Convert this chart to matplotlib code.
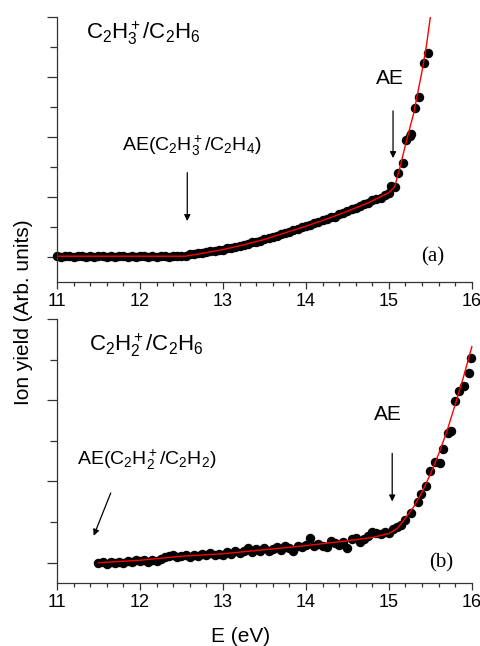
import matplotlib
matplotlib.use("Agg")
import matplotlib.pyplot as plt
from matplotlib.ticker import MultipleLocator, NullFormatter

plt.rcParams['font.family'] = ['Liberation Sans', 'DejaVu Sans']
plt.rcParams['mathtext.fontset'] = 'custom'
plt.rcParams['mathtext.rm'] = 'Liberation Sans'
plt.rcParams['mathtext.it'] = 'Liberation Sans'

# (a) C2H3+ / C2H6 measured points
e_a = [11.00, 11.05, 11.10, 11.15, 11.20, 11.25, 11.30, 11.35, 11.40, 11.45,
       11.50, 11.55, 11.60, 11.65, 11.70, 11.75, 11.80, 11.85, 11.90, 11.95,
       12.00, 12.05, 12.10, 12.15, 12.20, 12.25, 12.30, 12.35, 12.40, 12.45,
       12.50, 12.55, 12.60, 12.65, 12.70, 12.75, 12.80, 12.85, 12.90, 12.95,
       13.00, 13.05, 13.10, 13.15, 13.20, 13.25, 13.30, 13.35, 13.40, 13.45,
       13.50, 13.55, 13.60, 13.65, 13.70, 13.75, 13.80, 13.85, 13.90, 13.95,
       14.00, 14.05, 14.10, 14.15, 14.20, 14.25, 14.30, 14.35, 14.40, 14.45,
       14.50, 14.55, 14.60, 14.65, 14.70, 14.75, 14.80, 14.85, 14.90, 14.95,
       15.00, 15.03, 15.07, 15.11, 15.17, 15.21, 15.25, 15.27, 15.31, 15.36,
       15.42, 15.47]
y_a = [0.01, 0.00, 0.02, 0.01, 0.00, 0.01, 0.02, 0.00, 0.01, 0.00,
       0.01, 0.02, 0.00, 0.01, 0.00, 0.01, 0.02, 0.00, 0.01, 0.00,
       0.01, 0.02, 0.00, 0.01, 0.00, 0.02, 0.01, 0.00, 0.01, 0.02,
       0.01, 0.02, 0.04, 0.05, 0.06, 0.06, 0.08, 0.09, 0.10, 0.11,
       0.12, 0.14, 0.15, 0.17, 0.18, 0.20, 0.21, 0.24, 0.25, 0.27,
       0.29, 0.31, 0.33, 0.35, 0.38, 0.39, 0.42, 0.44, 0.46, 0.49,
       0.51, 0.53, 0.56, 0.58, 0.61, 0.63, 0.66, 0.67, 0.71, 0.73,
       0.76, 0.79, 0.81, 0.84, 0.88, 0.90, 0.94, 0.96, 0.98, 1.03,
       1.07, 1.18, 1.16, 1.40, 1.57, 1.95, 2.01, 2.04, 2.48, 2.66,
       3.23, 3.40]
fit_e_a = [11.0, 12.55, 12.8, 13.0, 13.25, 13.5, 13.75, 14.0, 14.25, 14.5,
           14.75, 15.0, 15.07, 15.13, 15.2, 15.3, 15.4, 15.45, 15.5]
fit_y_a = [0.01, 0.01, 0.07, 0.12, 0.20, 0.29, 0.40, 0.51, 0.63, 0.76,
           0.90, 1.07, 1.17, 1.47, 1.87, 2.40, 3.10, 3.50, 4.00]

# (b) C2H2+ / C2H6 measured points
e_b = [11.50, 11.55, 11.60, 11.65, 11.70, 11.75, 11.80, 11.85, 11.90, 11.95,
       12.00, 12.05, 12.10, 12.15, 12.20, 12.25, 12.30, 12.35, 12.40, 12.45,
       12.50, 12.55, 12.60, 12.65, 12.70, 12.75, 12.80, 12.85, 12.90, 12.95,
       13.00, 13.05, 13.10, 13.15, 13.20, 13.25, 13.30, 13.35, 13.40, 13.45,
       13.50, 13.55, 13.60, 13.65, 13.70, 13.75, 13.80, 13.85, 13.90, 13.95,
       14.00, 14.05, 14.10, 14.15, 14.20, 14.25, 14.30, 14.35, 14.40, 14.45,
       14.50, 14.55, 14.60, 14.65, 14.70, 14.75, 14.80, 14.85, 14.90, 14.95,
       15.00, 15.05, 15.10, 15.15, 15.20, 15.27, 15.35, 15.39, 15.45, 15.49,
       15.55, 15.61, 15.65, 15.71, 15.75, 15.80, 15.84, 15.90, 15.96, 15.99]
y_b = [0.00, 0.01, -0.01, 0.01, 0.00, 0.01, 0.00, 0.02, 0.01, 0.03,
       0.02, 0.03, 0.01, 0.03, 0.02, 0.05, 0.07, 0.08, 0.09, 0.07,
       0.08, 0.10, 0.07, 0.09, 0.08, 0.11, 0.09, 0.12, 0.10, 0.11,
       0.09, 0.13, 0.11, 0.15, 0.12, 0.14, 0.18, 0.13, 0.17, 0.15,
       0.18, 0.14, 0.17, 0.19, 0.16, 0.21, 0.18, 0.15, 0.20, 0.19,
       0.22, 0.31, 0.20, 0.23, 0.21, 0.19, 0.27, 0.24, 0.22, 0.25,
       0.18, 0.29, 0.30, 0.26, 0.29, 0.33, 0.38, 0.36, 0.35, 0.38,
       0.37, 0.41, 0.44, 0.47, 0.52, 0.61, 0.75, 0.85, 0.95, 1.13,
       1.24, 1.23, 1.40, 1.60, 1.62, 1.99, 2.11, 2.17, 2.33, 2.52]
fit_e_b = [11.5, 12.0, 12.5, 13.0, 13.5, 14.0, 14.5, 14.8, 15.0, 15.1,
           15.2, 15.3, 15.4, 15.5, 15.6, 15.7, 15.8, 15.9, 16.0]
fit_y_b = [0.00, 0.03, 0.08, 0.11, 0.16, 0.21, 0.27, 0.31, 0.36, 0.42,
           0.55, 0.69, 0.87, 1.09, 1.34, 1.62, 1.95, 2.29, 2.66]

fig = plt.figure(figsize=(4.81, 6.46), dpi=100)
ax1 = fig.add_axes([0.1185, 0.5635, 0.8625, 0.4102])
ax2 = fig.add_axes([0.1185, 0.0975, 0.8625, 0.4087])


def style(ax, ylo, yhi):
    ax.set_xlim(11, 16)
    ax.set_ylim(ylo, yhi)
    for s in ['top', 'right']:
        ax.spines[s].set_visible(False)
    for s in ['left', 'bottom']:
        ax.spines[s].set_linewidth(0.9)
        ax.spines[s].set_color('#333333')
    ax.xaxis.set_major_locator(MultipleLocator(1))
    ax.xaxis.set_minor_locator(MultipleLocator(0.2))
    ax.yaxis.set_major_locator(MultipleLocator(1))
    ax.yaxis.set_minor_locator(MultipleLocator(0.5))
    ax.yaxis.set_major_formatter(NullFormatter())
    ax.tick_params(axis='both', which='major', direction='out', length=5,
                   width=0.9, color='#333333')
    ax.tick_params(axis='both', which='minor', direction='out', length=3,
                   width=0.9, color='#333333')
    ax.tick_params(axis='y', which='major', length=7)
    ax.tick_params(axis='y', which='minor', length=5)
    ax.tick_params(axis='x', labelsize=13, pad=3)


style(ax1, -0.42, 4.0)
style(ax2, -0.25, 3.0)

ax1.plot(e_a, y_a, 'o', color='black', markersize=5.8, clip_on=False)
ax1.plot(fit_e_a, fit_y_a, '-', color='red', lw=1.0)
ax2.plot(e_b, y_b, 'o', color='black', markersize=5.8, clip_on=False)
ax2.plot(fit_e_b, fit_y_b, '-', color='red', lw=1.0, clip_on=False)

arw = dict(arrowstyle='-|>', color='black', lw=0.9, mutation_scale=9)

ax1.text(11.35, 3.73, r'$\mathregular{C_2H_3^+/C_2H_6}$', fontsize=16,
         va='center', ha='left')
ax1.text(12.62, 1.85, r'$\mathregular{AE(C_2H_3^+/C_2H_4)}$', fontsize=14,
         va='center', ha='center')
ax1.annotate('', xy=(12.57, 0.55), xytext=(12.57, 1.45), arrowprops=arw)
ax1.text(15.01, 2.98, 'AE', fontsize=15, va='center', ha='center')
ax1.annotate('', xy=(15.05, 1.6), xytext=(15.05, 2.48), arrowprops=arw)
ax1.text(15.53, 0.0, '(a)', fontsize=15, va='center', ha='center',
         family='Liberation Serif')

ax2.text(11.38, 2.68, r'$\mathregular{C_2H_2^+/C_2H_6}$', fontsize=16,
         va='center', ha='left')
ax2.text(11.24, 1.26, r'$\mathregular{AE(C_2H_2^+/C_2H_2)}$', fontsize=14,
         va='center', ha='left')
ax2.annotate('', xy=(11.43, 0.30), xytext=(11.66, 0.89), arrowprops=arw)
ax2.text(14.99, 1.83, 'AE', fontsize=15, va='center', ha='center')
ax2.annotate('', xy=(15.04, 0.72), xytext=(15.04, 1.38), arrowprops=arw)
ax2.text(15.63, 0.0, '(b)', fontsize=15, va='center', ha='center',
         family='Liberation Serif')

fig.text(0.5, 0.015, 'E (eV)', fontsize=15, ha='center', va='center')
fig.text(0.048, 0.517, 'Ion yield (Arb. units)', fontsize=15, ha='center',
         va='center', rotation=90)

fig.savefig('out.png', dpi=100)
